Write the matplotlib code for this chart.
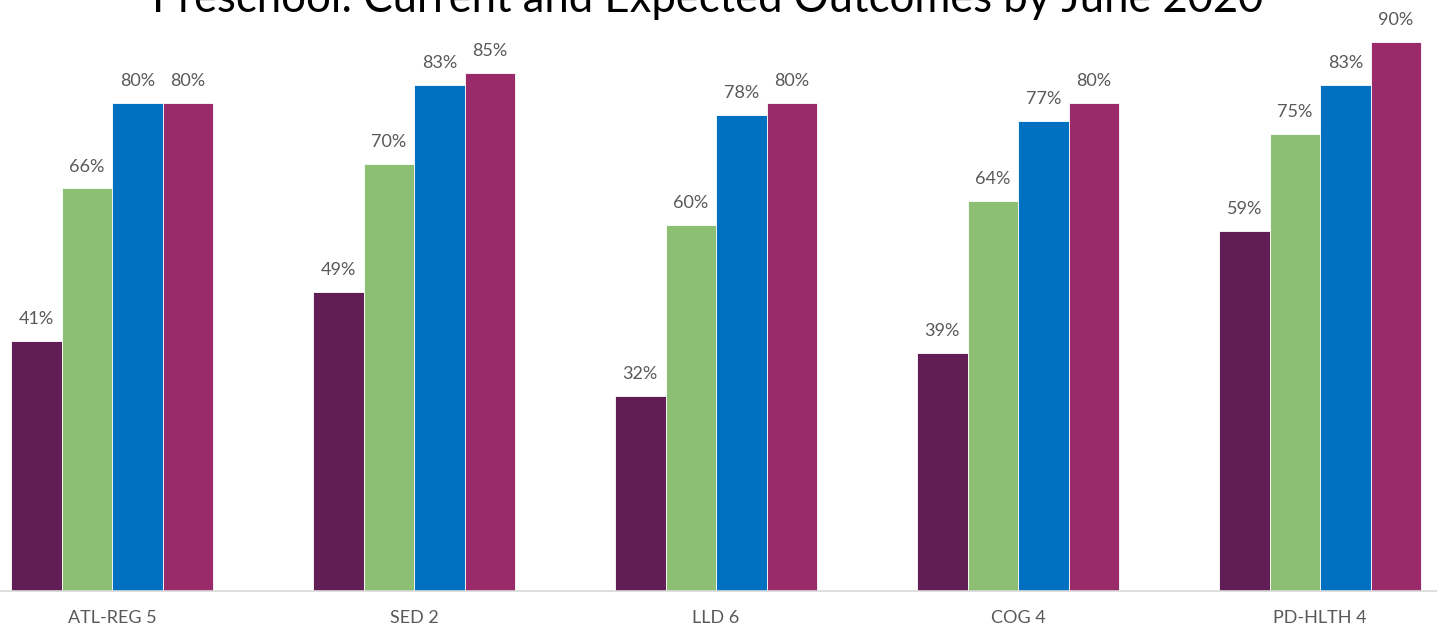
import matplotlib.pyplot as plt
import numpy as np

plt.rcParams['font.family'] = ['Lato', 'DejaVu Sans']

categories = ["ATL-REG 5", "SED 2", "LLD 6", "COG 4", "PD-HLTH 4"]
series_names = ["Current", "Expected 1", "Expected 2", "Target"]
current = [41, 49, 32, 39, 59]
expected_1 = [66, 70, 60, 64, 75]
expected_2 = [80, 83, 78, 77, 83]
target = [80, 85, 80, 80, 90]
colors = ["#621D56", "#8CBE73", "#0070C0", "#9A2A6A"]

fig = plt.figure(figsize=(14.37, 6.31), dpi=100)
ax = fig.add_axes([0, 40 / 631, 1, 591 / 631])

x = np.arange(len(categories))
width = 202 / 302 / 4
for i, (vals, col) in enumerate(zip([current, expected_1, expected_2, target], colors)):
    pos = x + (i - 1.5) * width
    ax.bar(pos, vals, width, color=col, edgecolor="white", linewidth=0.6,
           label=series_names[i])
    for px, v in zip(pos, vals):
        ax.annotate(f"{v}%", (px, v), xytext=(0, 10), textcoords="offset points",
                    ha="center", va="bottom", fontsize=13, color="#595959")

ax.set_xlim(-112 / 302, (1437 - 112) / 302)
ax.set_ylim(0, 591 / 6.1)
ax.set_yticks([])
ax.set_xticks(x)
ax.set_xticklabels(categories, fontsize=13, color="#595959")
ax.tick_params(axis="x", length=0, pad=14)
for s in ["top", "left", "right"]:
    ax.spines[s].set_visible(False)
ax.spines["bottom"].set_color("#D9D9D9")
ax.spines["bottom"].set_linewidth(1.2)

# title sits mostly above the top edge, as in the source image
fig.text(0.4925, 1 - 12 / 631, "Preschool: Current and Expected Outcomes by June 2020",
         ha="center", va="baseline", fontsize=31.4, color="#000000")

fig.savefig("out.png", dpi=100)
